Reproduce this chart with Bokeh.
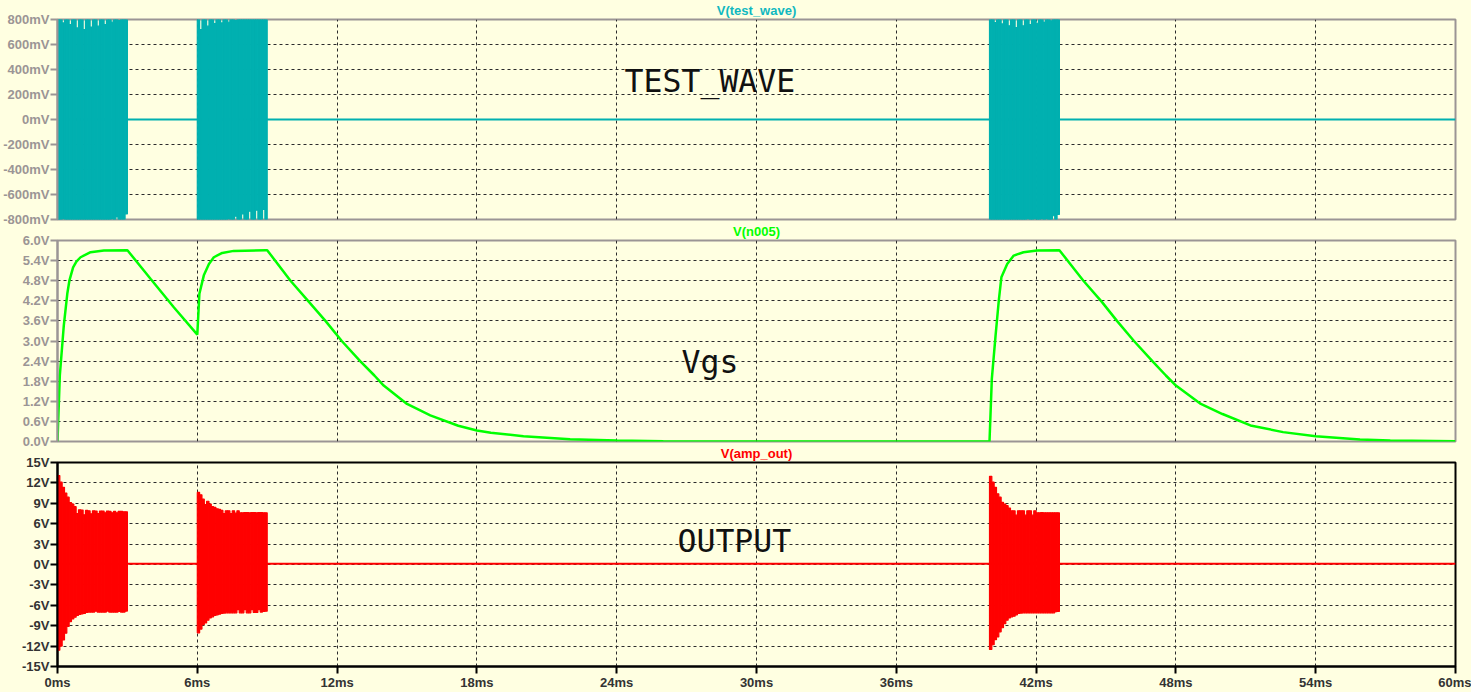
from bokeh.embed import file_html
from bokeh.layouts import column
from bokeh.models import FixedTicker, Label
from bokeh.plotting import figure
from bokeh.resources import INLINE

# time axis (ms)
x_ticks = [0, 6, 12, 18, 24, 30, 36, 42, 48, 54, 60]
x_labels = ["0ms", "6ms", "12ms", "18ms", "24ms", "30ms", "36ms", "42ms", "48ms", "54ms", "60ms"]

# y axes
wave_ticks = [-800, -600, -400, -200, 0, 200, 400, 600, 800]
wave_labels = ["-800mV", "-600mV", "-400mV", "-200mV", "0mV", "200mV", "400mV", "600mV", "800mV"]
vgs_ticks = [0, 0.6, 1.2, 1.8, 2.4, 3.0, 3.6, 4.2, 4.8, 5.4, 6.0]
vgs_labels = ["0.0V", "0.6V", "1.2V", "1.8V", "2.4V", "3.0V", "3.6V", "4.2V", "4.8V", "5.4V", "6.0V"]
out_ticks = [-15, -12, -9, -6, -3, 0, 3, 6, 9, 12, 15]
out_labels = ["-15V", "-12V", "-9V", "-6V", "-3V", "0V", "3V", "6V", "9V", "12V", "15V"]

# the three bursts, sampled every 0.1 ms from their start
burst_starts = [0, 6, 40]
burst_offsets = [0.05, 0.15, 0.25, 0.35, 0.45, 0.55, 0.65, 0.75, 0.85, 0.95,
                 1.05, 1.15, 1.25, 1.35, 1.45, 1.55, 1.65, 1.75, 1.85, 1.95,
                 2.05, 2.15, 2.25, 2.35, 2.45, 2.55, 2.65, 2.75, 2.85, 2.95]

# V(test_wave) envelope, mV
wave_hi = [
    [800, 800, 773, 800, 800, 760, 800, 800, 733, 800, 800, 720, 800, 800, 740,
     800, 800, 747, 800, 800, 760, 800, 800, 779, 800, 800, 792, 800, 800, 800],
    [800, 720, 800, 800, 747, 800, 800, 768, 800, 800, 773, 800, 800, 779, 800,
     800, 792, 800, 800, 800, 800, 800, 800, 800, 800, 800, 800, 800, 800, 800],
    [800, 800, 775, 800, 800, 765, 800, 800, 750, 800, 800, 735, 800, 800, 750,
     800, 800, 760, 800, 800, 770, 800, 800, 780, 800, 800, 790, 800, 800, 800],
]
wave_lo = [
    [-800, -800, -795, -800, -800, -800, -800, -800, -800, -800, -800, -800, -800, -800, -800,
     -800, -800, -800, -800, -800, -800, -800, -800, -795, -800, -780, -800, -800, -800, -755],
    [-800, -800, -800, -800, -800, -800, -800, -800, -800, -800, -800, -800, -800, -795, -800,
     -800, -773, -800, -800, -755, -800, -800, -733, -800, -800, -725, -800, -800, -720, -800],
    [-800, -800, -800, -800, -800, -800, -800, -800, -800, -800, -800, -800, -800, -800, -800,
     -800, -795, -800, -800, -795, -800, -800, -795, -800, -795, -800, -800, -770, -800, -760],
]
wave_base_t = [0, 60]
wave_base_v = [0, 0]

# V(n005), V
vgs_t = [0, 0.1, 0.27, 0.42, 0.51, 0.67, 0.81, 0.99, 1.42, 1.99, 3, 4, 5, 6,
         6.09, 6.28, 6.5, 6.71, 7.07, 7.56, 8.93, 9, 10, 10.8, 11.5, 12.2, 13, 13.6, 14, 15, 16, 17.2, 18, 18.6, 20, 22, 24, 26, 30,
         39.95, 40, 40.1, 40.26, 40.4, 40.51, 40.76, 41.04, 41.46, 42.04, 43,
         44.03, 44.83, 45.47, 46.2, 47, 47.57, 48, 49.07, 50, 51.2, 52.6, 54, 55.9, 57.2, 60]
vgs_v = [0, 1.97, 3.46, 4.41, 4.8, 5.2, 5.37, 5.5, 5.65, 5.7, 5.71, 4.85, 4.0, 3.19,
         4.41, 4.96, 5.3, 5.5, 5.63, 5.69, 5.71, 5.71, 4.8, 4.16, 3.6, 3.0, 2.39, 1.97, 1.67, 1.12, 0.78, 0.47, 0.33, 0.26, 0.16, 0.07, 0.03, 0.01, 0.0,
         0.0, 0.0, 1.87, 3.16, 4.21, 4.9, 5.3, 5.55, 5.65, 5.7, 5.71,
         4.8, 4.16, 3.6, 3.0, 2.39, 1.97, 1.67, 1.12, 0.82, 0.48, 0.28, 0.16, 0.06, 0.03, 0.01]

# V(amp_out) envelope, V
out_hi = [
    [13.07, 12.1, 11.35, 10.5, 9.9, 9.1, 8.9, 8.5, 7.5, 8.05, 8.0, 7.3, 7.95, 7.9, 7.45,
     7.9, 7.85, 7.5, 7.85, 7.85, 7.6, 7.85, 7.8, 7.6, 7.8, 7.6, 7.8, 7.8, 7.75, 7.75],
    [10.6, 10.25, 9.6, 8.8, 9.3, 8.9, 8.5, 8.4, 8.2, 8.1, 7.95, 7.5, 7.9, 7.9, 7.5,
     7.9, 7.55, 7.9, 7.6, 7.6, 7.65, 7.65, 7.6, 7.65, 7.65, 7.6, 7.65, 7.65, 7.6, 7.6],
    [12.97, 12.1, 11.35, 10.4, 9.9, 9.15, 8.9, 8.65, 8.3, 7.9, 7.9, 7.25, 7.9, 7.9, 7.9,
     7.25, 7.9, 7.9, 7.25, 7.9, 7.6, 7.6, 7.65, 7.6, 7.6, 7.6, 7.6, 7.6, 7.6, 7.6],
]
out_lo = [
    [-12.6, -12.0, -11.1, -10.1, -9.1, -8.4, -8.0, -7.75, -7.5, -7.35, -7.25, -7.2, -7.05, -7.0, -7.0,
     -7.0, -6.85, -7.0, -7.0, -7.0, -7.0, -6.85, -7.0, -7.0, -7.0, -7.0, -6.9, -7.0, -7.0, -6.85],
    [-10.05, -9.5, -8.85, -8.6, -8.2, -7.85, -7.7, -7.5, -7.4, -7.3, -7.2, -7.15, -7.1, -7.1, -7.1,
     -7.1, -7.1, -6.65, -7.1, -7.1, -6.65, -7.1, -7.1, -6.65, -7.05, -7.05, -6.65, -7.0, -6.9, -6.87],
    [-12.5, -11.8, -11.05, -10.65, -9.9, -9.3, -8.7, -8.2, -7.85, -7.7, -7.6, -7.4, -7.2, -7.15, -7.1,
     -7.1, -7.1, -7.1, -7.1, -7.1, -7.1, -7.1, -7.1, -7.1, -7.1, -7.1, -7.1, -7.1, -6.95, -6.9],
]
out_base_t = [0, 60]
out_base_v = [0.1, 0.1]

BG = "#ffffe1"
GRID = "#2b2b2b"
FONT = "Liberation Sans"


def make_panel(name, name_color, y_range, yticks, ylabels, frame_height, bottom, margin_top, axis_color, text_color, show_x):
    p = figure(
        title=name,
        width=1471,
        height=19 + frame_height + bottom,
        frame_width=1398,
        frame_height=frame_height,
        x_range=(0, 60),
        y_range=y_range,
        min_border_left=57,
        min_border_right=16,
        min_border_top=19,
        min_border_bottom=bottom,
        background_fill_color=BG,
        border_fill_color=None,
        margin=(margin_top, 0, 0, 0),
        output_backend="svg",
        toolbar_location=None,
        tools="",
    )
    p.title.align = "center"
    p.title.vertical_align = "middle"
    p.title.standoff = 2
    p.title.offset = 0
    p.title.text_font = FONT
    p.title.text_font_style = "bold"
    p.title.text_font_size = "13px"
    p.title.text_color = name_color
    p.outline_line_color = axis_color
    p.outline_line_width = 2
    p.yaxis.ticker = FixedTicker(ticks=yticks)
    p.yaxis.major_label_overrides = dict(zip(yticks, ylabels))
    p.xaxis.ticker = FixedTicker(ticks=x_ticks)
    p.xaxis.major_label_overrides = dict(zip(x_ticks, x_labels))
    for ax in (p.xaxis, p.yaxis):
        ax.axis_line_color = axis_color
        ax.axis_line_width = 2
        ax.major_tick_line_color = axis_color
        ax.major_tick_line_width = 2
        ax.major_tick_in = 0
        ax.major_tick_out = 7
        ax.minor_tick_line_color = None
        ax.major_label_text_font = FONT
        ax.major_label_text_font_style = "bold"
        ax.major_label_text_font_size = "13px"
        ax.major_label_text_color = text_color
        ax.major_label_standoff = 1
    if not show_x:
        p.xaxis.visible = False
    for g in (p.xgrid, p.ygrid):
        g.grid_line_color = GRID
        g.grid_line_dash = "3 3"
        g.grid_line_width = 1
    return p


def add_text(p, x, y, text):
    p.add_layout(Label(x=x, y=y, text=text, text_font="DejaVu Sans Mono", text_font_size="31.5px",
                       text_color="#111111", text_align="center", text_baseline="middle"))


def add_bursts(p, hi, lo, color):
    for start, top, bottom in zip(burst_starts, hi, lo):
        x = [start + o for o in burst_offsets]
        p.vbar(x=x, width=0.1, top=top, bottom=bottom, fill_color=color, line_color=color, line_width=1.2)


teal = "#00b0b0"
p1 = make_panel("V(test_wave)", "#10b8c0", (-800, 800), wave_ticks, wave_labels, 200, 9, 0, "#9b9595", "#9b9595", False)
p1.line(wave_base_t, wave_base_v, line_color=teal, line_width=2)
add_bursts(p1, wave_hi, wave_lo, teal)
add_text(p1, 28.0, 312, "TEST_WAVE")

p2 = make_panel("V(n005)", "#00ff00", (0, 6), vgs_ticks, vgs_labels, 201, 9, -7, "#9b9595", "#9b9595", False)
p2.line(vgs_t, vgs_v, line_color="#00ff00", line_width=2.5)
add_text(p2, 28.0, 2.36, "Vgs")

p3 = make_panel("V(amp_out)", "#ff0000", (-15, 15), out_ticks, out_labels, 204, 25, -7, "#000000", "#333333", True)
p3.line(out_base_t, out_base_v, line_color="#ff0000", line_width=2)
add_bursts(p3, out_hi, out_lo, "#ff0000")
add_text(p3, 29.05, 3.5, "OUTPUT")

layout = column(p1, p2, p3, spacing=0, styles={"position": "absolute", "left": "0px", "top": "0px", "background-color": BG})

open("out.html", "w").write(file_html(layout, INLINE))
